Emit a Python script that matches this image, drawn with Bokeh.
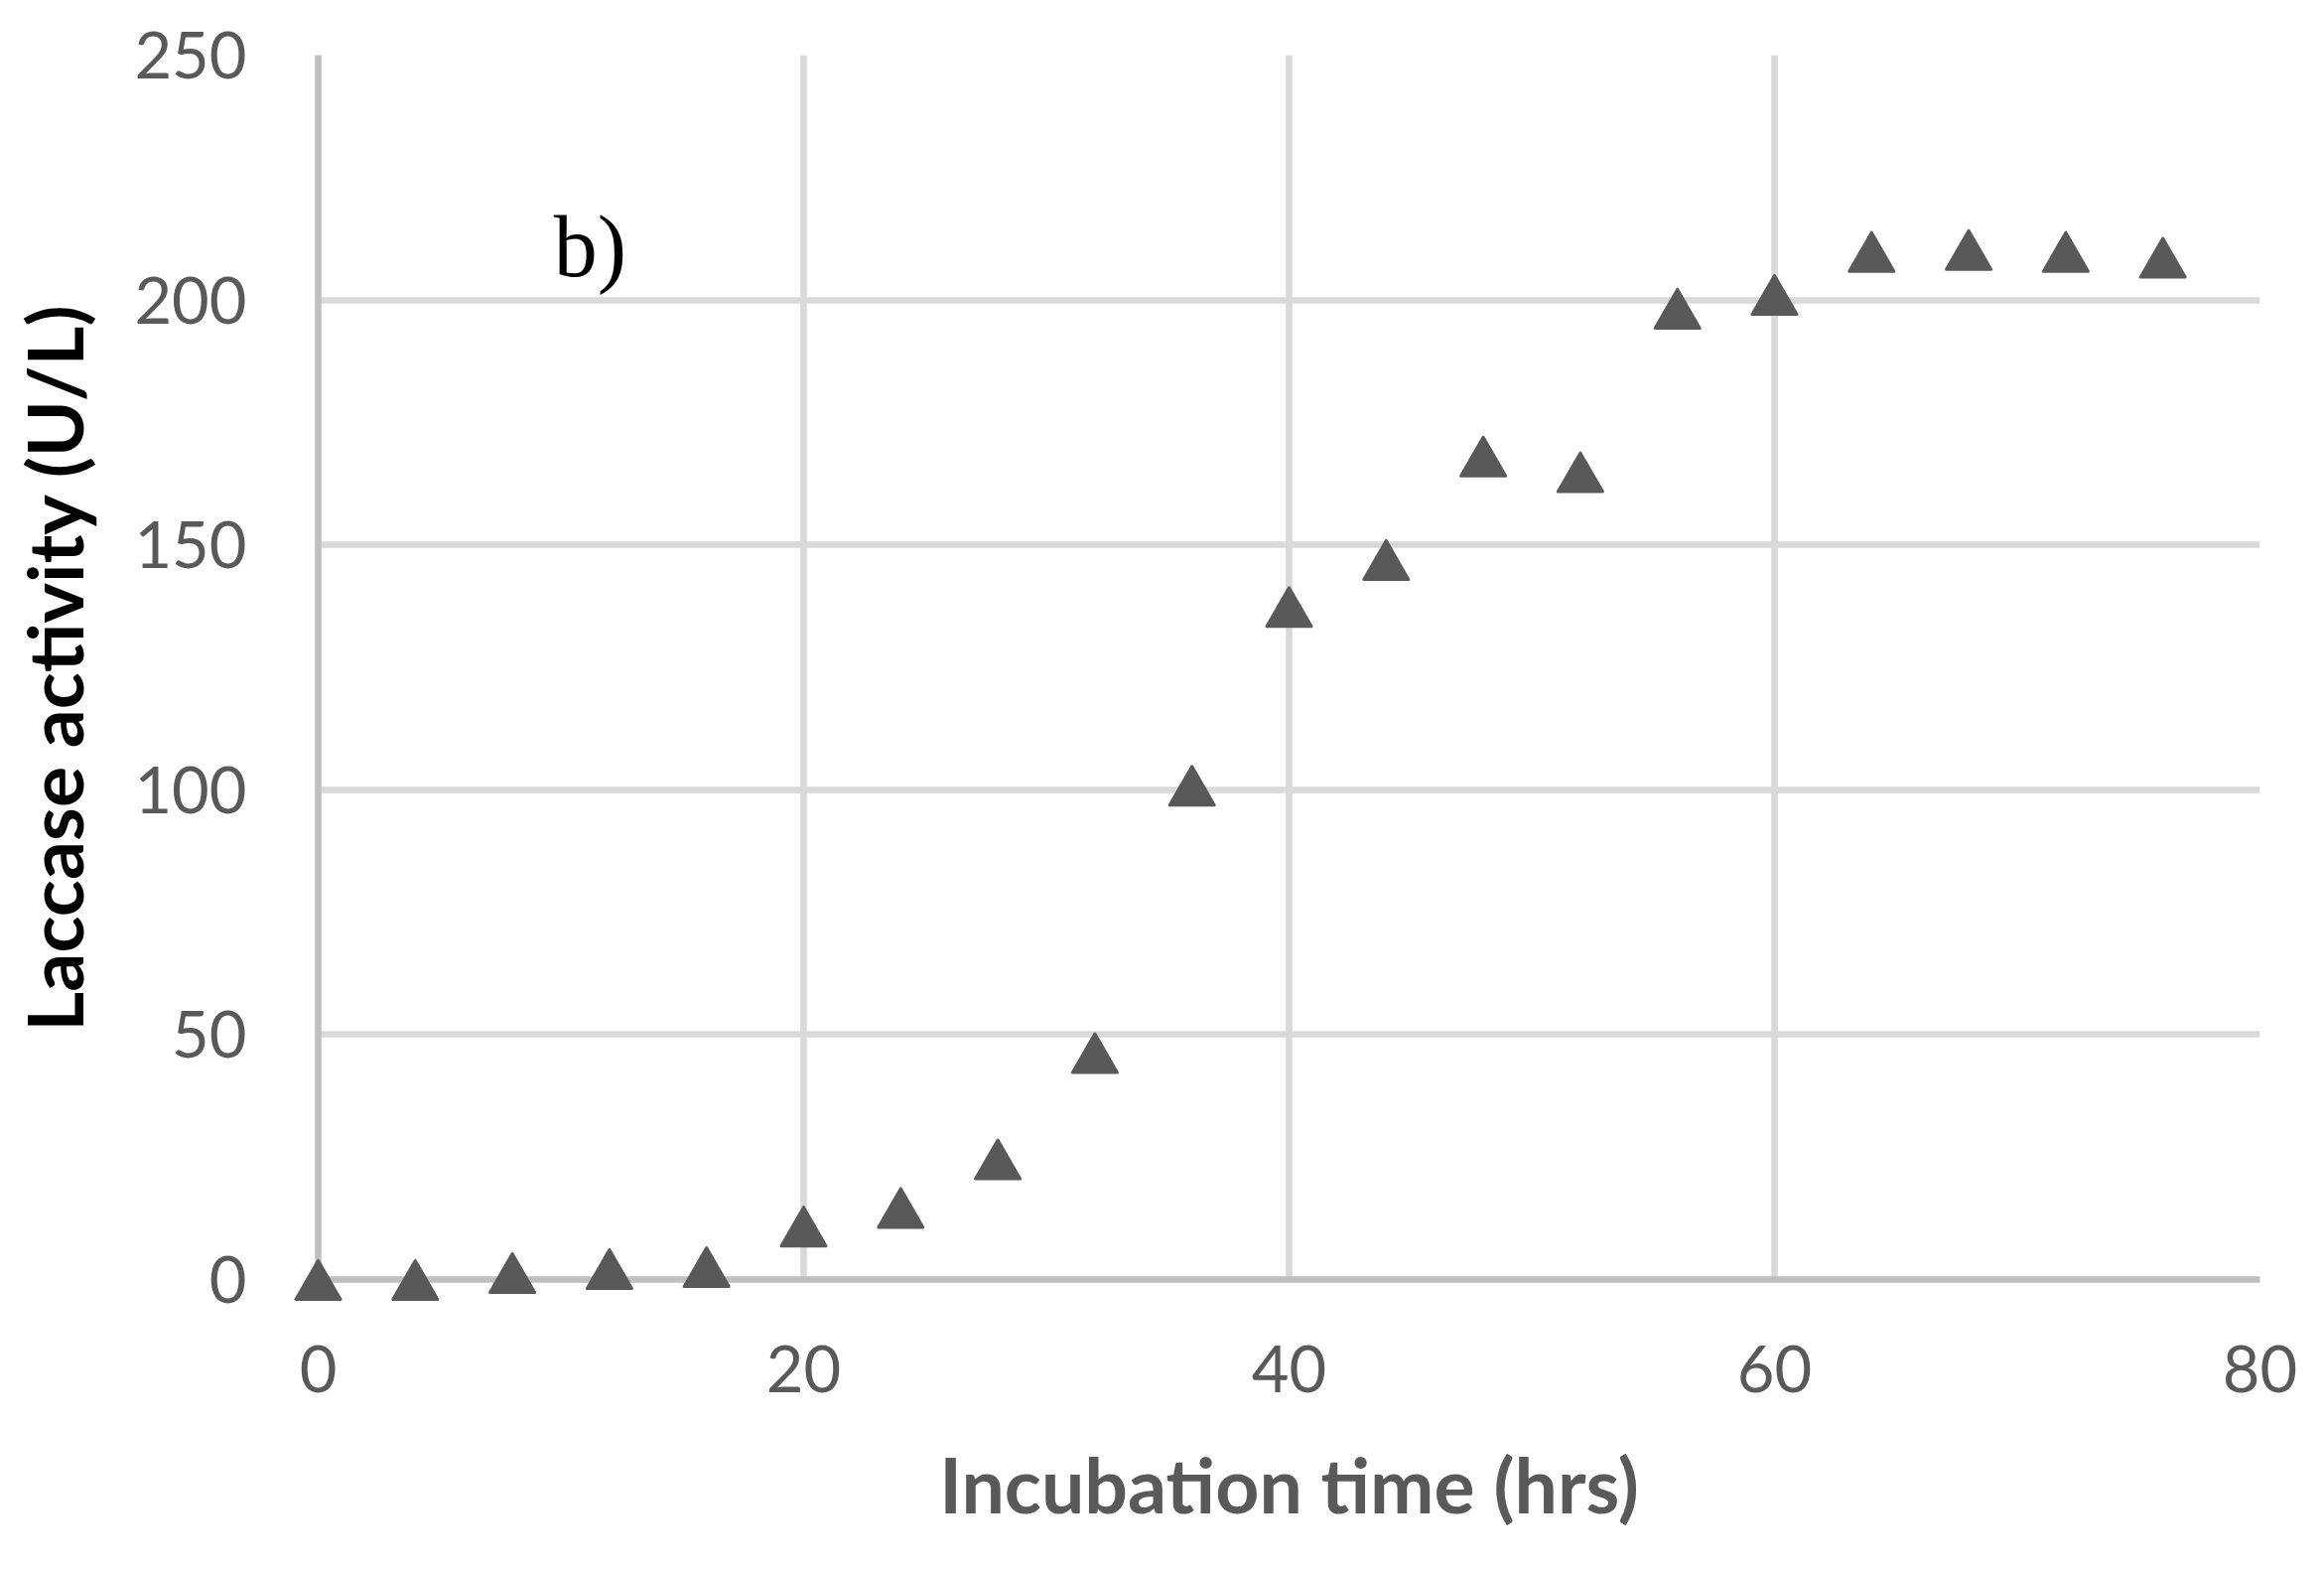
from bokeh.plotting import figure
from bokeh.models import Range1d, SingleIntervalTicker, Label, ColumnDataSource
from bokeh.transform import dodge
from bokeh.embed import file_html
from bokeh.resources import INLINE

# Data
incubation_hrs = [0, 4, 8, 12, 16, 20, 24, 28, 32, 36, 40, 44, 48, 52, 56, 60, 64, 68, 72, 76]
laccase_activity = [0.0, 0.0, 1.4, 2.2, 2.6, 10.9, 14.7, 24.6, 46.3, 100.9, 137.4, 147.0,
                    168.1, 164.9, 198.3, 201.1, 209.9, 210.3, 209.9, 208.7]

x_title = "Incubation time (hrs)"
y_title = "Laccase activity (U/L)"
panel_tag = "b)"

TICK_FONT = "Lato"
GRAY = "#595959"

p = figure(
    output_backend="svg",
    toolbar_location=None,
    frame_width=1956,
    frame_height=1233,
    min_border_left=320,
    min_border_right=49,
    min_border_top=55,
    min_border_bottom=277,
    x_range=Range1d(0, 80),
    y_range=Range1d(0, 250),
    background_fill_color="white",
    border_fill_color="white",
)
p.outline_line_color = None

p.xaxis.ticker = SingleIntervalTicker(interval=20)
p.yaxis.ticker = SingleIntervalTicker(interval=50)

for ax in (p.xaxis, p.yaxis):
    ax.axis_line_color = "#BFBFBF"
    ax.axis_line_width = 6.5
    ax.major_tick_line_color = None
    ax.minor_tick_line_color = None
    ax.major_tick_in = 0
    ax.major_tick_out = 0
    ax.major_label_text_font = TICK_FONT
    ax.major_label_text_font_size = "65px"
    ax.major_label_text_color = GRAY
    ax.axis_label_text_font = TICK_FONT
    ax.axis_label_text_font_style = "bold"
    ax.axis_label_text_font_size = "77px"

p.xaxis.axis_label = x_title
p.xaxis.axis_label_text_color = GRAY
p.xaxis.major_label_standoff = 62
p.xaxis.axis_label_standoff = 43

p.yaxis.axis_label = y_title
p.yaxis.axis_label_text_color = "black"
p.yaxis.major_label_standoff = 68
p.yaxis.axis_label_standoff = 32

for g in (p.xgrid, p.ygrid):
    g.grid_line_color = "#D9D9D9"
    g.grid_line_width = 6.5

src = ColumnDataSource(dict(x=incubation_hrs, y=laccase_activity))
r = p.scatter(
    x="x", y=dodge("y", -1.4, range=p.y_range), source=src,
    marker="triangle", size=45,
    fill_color=GRAY, line_color=GRAY, line_width=3, line_join="round",
)
r.level = "overlay"

p.add_layout(Label(
    x=9.7, y=210.8, text=panel_tag,
    text_font="Liberation Serif", text_font_size="88px",
    text_color="black", text_baseline="alphabetic", text_align="left",
))

open("out.html", "w").write(file_html(p, INLINE))
